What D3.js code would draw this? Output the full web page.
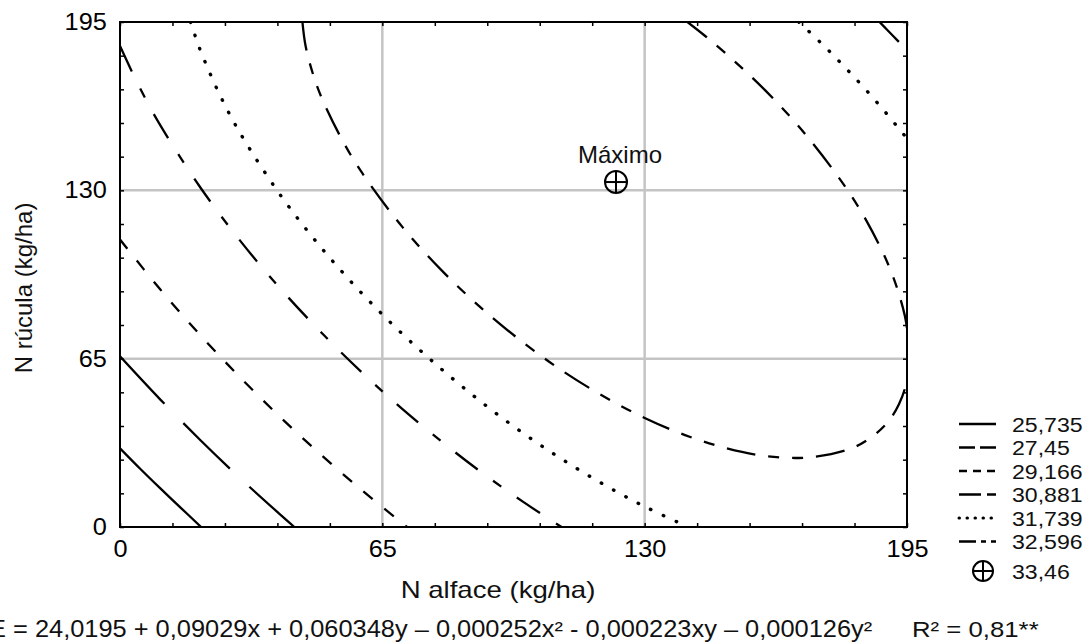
<!DOCTYPE html>
<html>
<head>
<meta charset="utf-8">
<script src="https://cdn.jsdelivr.net/npm/d3@7"></script>
<style>
  body { margin: 0; background: #fff; }
  svg { display: block; font-family: "Liberation Sans", Arial, sans-serif; }
</style>
</head>
<body>
<svg id="chart" width="1087" height="642"></svg>
<script>
// contour levels (legend order) and the points, [N alface, N rúcula]
const levels = ["25,735", "27,45", "29,166", "30,881", "31,739", "32,596"]
const maxLabel = "33,46"

const c25735 = [[0, 30.4], [5, 22.5], [10, 14.9], [15, 7.5], [20.1, 0]]
const c27450 = [[0, 65.9], [10, 49.2], [20, 33.4], [30, 18.5], [40, 4.4], [43.2, 0]]
const c29166 = [[0, 111], [10, 91.7], [20, 73.9], [30, 57.4], [40, 42], [50, 27.6], [60, 14.1], [70, 1.4], [71.1, 0]]
const c30881a = [[0, 185.7], [5, 169.3], [10, 155.1], [20, 130.9], [30, 110.1], [40, 91.6], [50, 74.9], [60, 59.6],
    [70, 45.5], [80, 32.6], [90, 20.6], [100, 9.6], [109.4, 0]]
const c30881b = [[188.2, 195], [190, 192.1], [192.5, 188.1], [195, 184]]
const c31739a = [[17.5, 195], [18, 192.6], [20, 183.7], [25, 166], [30, 151.5], [40, 127.6], [50, 107.6], [60, 90.1],
    [70, 74.5], [80, 60.5], [90, 47.7], [100, 36.1], [110, 25.7], [120, 16.3], [130, 7.9], [140, 0.6], [140.9, 0]]
const c31739b = [[168.2, 195], [170, 192.4], [175, 184.9], [180, 176.9], [185, 168.5], [190, 159.5], [195, 150]]
const c32596 = [[45.2, 195], [46, 185.6], [48, 174], [50, 165.6], [55, 149.6], [60, 136.7], [70, 115.8], [80, 98.6],
    [90, 83.9], [100, 71.1], [110, 59.9], [120, 50.3], [130, 42.1], [140, 35.5], [150, 30.5], [160, 27.4],
    [170, 26.8], [180, 29.7], [185, 33.4], [190, 40.1], [193, 47.4], [195, 57.2], [195, 76.7], [193, 90],
    [190, 102.6], [185, 118.1], [180, 130.7], [170, 151.3], [160, 168.4], [150, 183], [145, 189.6], [140.6, 195]]

const maxPoint = [122.9, 133.2]

const tickLabels = [0, 65, 130, 195]
const minorTicks = [0, 13, 26, 39, 52, 65, 78, 91, 104, 117, 130, 143, 156, 169, 182, 195]

const equation = "E = 24,0195 + 0,09029x + 0,060348y – 0,000252x² - 0,000223xy – 0,000126y²"
const r2Text = "R² = 0,81**"

// curves: which points, which level
const curves = [
    { pts: c25735, level: 0 },
    { pts: c27450, level: 1 },
    { pts: c29166, level: 2 },
    { pts: c30881a, level: 3 },
    { pts: c30881b, level: 3 },
    { pts: c31739a, level: 4 },
    { pts: c31739b, level: 4 },
    { pts: c32596, level: 5 }
]
const plotDash = [null, "65,27", "12,15", "28,19,10,19", "0.5,13.5", "29,13,11,13,11,13"]
const legendDash = [null, "16,5", "8,6", "22,6,9,6", "0.5,7.5", "17,5,5,5,5,5"]
const DOTTED = 4

const box = { left: 120, right: 907, top: 22, bottom: 527 }
const svg = d3.select("#chart")

const x = d3.scaleLinear().domain([0, 195]).range([box.left, box.right])
const y = d3.scaleLinear().domain([0, 195]).range([box.bottom, box.top])

svg.append("clipPath").attr("id", "plotclip")
    .append("rect").attr("x", box.left).attr("y", box.top)
    .attr("width", box.right - box.left + 1).attr("height", box.bottom - box.top)

// grid
const grid = svg.append("g")
tickLabels.filter(d => d > 0 && d < 195).forEach(d => {
    grid.append("line").attr("x1", x(d)).attr("x2", x(d)).attr("y1", box.top).attr("y2", box.bottom)
        .attr("stroke", "#c4c4c4").attr("stroke-width", 2.5)
    grid.append("line").attr("x1", box.left).attr("x2", box.right).attr("y1", y(d)).attr("y2", y(d))
        .attr("stroke", "#c4c4c4").attr("stroke-width", 2.5)
})

// contour lines
const line = d3.line().x(d => x(d[0])).y(d => y(d[1])).curve(d3.curveCatmullRom.alpha(0.5))
const contours = svg.append("g").attr("clip-path", "url(#plotclip)")
curves.forEach(c => {
    contours.append("path").attr("d", line(c.pts))
        .attr("fill", "none").attr("stroke", "#000")
        .attr("stroke-width", c.level === DOTTED ? 3.4 : 2.3)
        .attr("stroke-linecap", c.level === DOTTED ? "round" : "butt")
        .attr("stroke-dasharray", plotDash[c.level])
})

// axes, ticks pointing inwards on all four sides
const fmt = d => tickLabels.includes(d) ? d : ""
const axisB = d3.axisBottom(x).tickValues(minorTicks).tickSizeInner(-4).tickSizeOuter(0).tickPadding(14).tickFormat(fmt)
const axisL = d3.axisLeft(y).tickValues(minorTicks).tickSizeInner(-4).tickSizeOuter(0).tickPadding(12).tickFormat(fmt)
const axisT = d3.axisTop(x).tickValues(minorTicks).tickSizeInner(-4).tickSizeOuter(0).tickFormat("")
const axisR = d3.axisRight(y).tickValues(minorTicks).tickSizeInner(-4).tickSizeOuter(0).tickFormat("")

function styleAxis(g) {
    g.select(".domain").remove()
    g.selectAll(".tick line").attr("stroke", "#000").attr("stroke-width", 1.5)
    g.selectAll(".tick text").attr("fill", "#000").attr("font-size", 23)
        .attr("font-family", "Liberation Sans, Arial, sans-serif")
        .attr("transform", "scale(1.1,1)")
}
svg.append("g").attr("transform", `translate(0,${box.bottom})`).call(axisB).call(styleAxis)
svg.append("g").attr("transform", `translate(${box.left},0)`).call(axisL).call(styleAxis)
svg.append("g").attr("transform", `translate(0,${box.top})`).call(axisT).call(styleAxis)
svg.append("g").attr("transform", `translate(${box.right},0)`).call(axisR).call(styleAxis)

svg.append("rect").attr("x", box.left).attr("y", box.top)
    .attr("width", box.right - box.left).attr("height", box.bottom - box.top)
    .attr("fill", "none").attr("stroke", "#000").attr("stroke-width", 2)

function drawMaxMarker(g, cx, cy, r) {
    g.append("circle").attr("cx", cx).attr("cy", cy).attr("r", r)
        .attr("fill", "none").attr("stroke", "#000").attr("stroke-width", 2)
    g.append("line").attr("x1", cx - r).attr("x2", cx + r).attr("y1", cy).attr("y2", cy)
        .attr("stroke", "#000").attr("stroke-width", 2)
    g.append("line").attr("x1", cx).attr("x2", cx).attr("y1", cy - r).attr("y2", cy + r)
        .attr("stroke", "#000").attr("stroke-width", 2)
}

// maximum
const mx = x(maxPoint[0]), my = y(maxPoint[1])
drawMaxMarker(svg, mx, my, 11)
svg.append("text").attr("x", mx + 4).attr("y", my - 19).attr("text-anchor", "middle")
    .attr("font-size", 24).attr("fill", "#111").text("Máximo")

// axis titles
svg.append("text").attr("transform", "translate(498,598) scale(1.2,1)").attr("text-anchor", "middle")
    .attr("font-size", 23).attr("fill", "#111").text("N alface (kg/ha)")
svg.append("text").attr("transform", "translate(32,288) rotate(-90)").attr("text-anchor", "middle")
    .attr("font-size", 24).attr("fill", "#111").text("N rúcula (kg/ha)")

// legend
const legend = svg.append("g").attr("transform", "translate(959,424)")
levels.forEach((lv, i) => {
    legend.append("line").attr("x1", 0).attr("x2", 37).attr("y1", i * 23.5).attr("y2", i * 23.5)
        .attr("stroke", "#000").attr("stroke-width", i === DOTTED ? 3 : 2.3)
        .attr("stroke-linecap", i === DOTTED ? "round" : "butt")
        .attr("stroke-dasharray", legendDash[i])
    legend.append("text").attr("transform", `translate(53,${i * 23.5 + 7.5}) scale(1.1,1)`)
        .attr("font-size", 21).attr("fill", "#111").text(lv)
})
drawMaxMarker(legend, 24, 147, 10)
legend.append("text").attr("transform", `translate(53,${147 + 7.5}) scale(1.1,1)`)
    .attr("font-size", 21).attr("fill", "#111").text(maxLabel)

// fitted equation (its first letter runs off the left edge, as in the original)
svg.append("text").attr("transform", "translate(-11,637) scale(1.105,1)")
    .attr("font-size", 23).attr("fill", "#111").text(equation)
svg.append("text").attr("transform", "translate(912,637) scale(1.12,1)")
    .attr("font-size", 23).attr("fill", "#111").text(r2Text)
</script>
</body>
</html>
